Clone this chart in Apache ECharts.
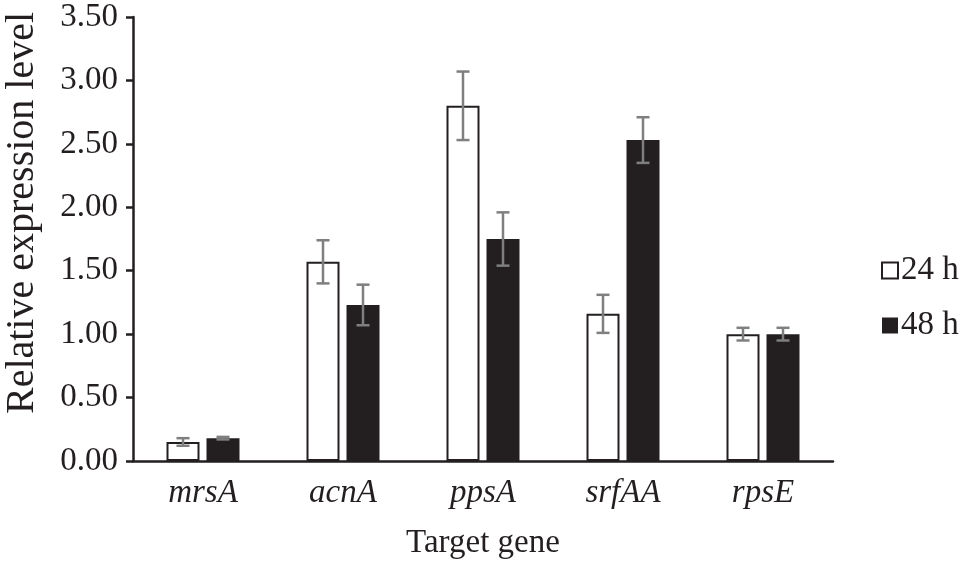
<!DOCTYPE html>
<html style="height: 100%">
<head>
<meta charset="utf-8">
<script src="https://cdn.jsdelivr.net/npm/echarts@6/dist/echarts.min.js"></script>
</head>
<body style="height: 100%; margin: 0; background: #fff">
<div id="container" style="width: 967px; height: 562px"></div>
<script type="text/javascript">
var genes = ['mrsA', 'acnA', 'ppsA', 'srfAA', 'rpsE'];
var h24 = [0.15, 1.57, 2.80, 1.16, 1.00];
var h48 = [0.18, 1.23, 1.75, 2.53, 1.00];
var err24 = [0.03, 0.17, 0.27, 0.15, 0.05];
var err48 = [0.01, 0.16, 0.21, 0.18, 0.05];

var ink = '#231f20';
var font = "'Liberation Serif', 'Times New Roman', serif";
var barW = 33, barGapPx = 7;

function errData(vals, errs) {
    return vals.map(function (v, i) { return [i, v - errs[i], v + errs[i]]; });
}

function errRender(shift) {
    return function (params, api) {
        var lo = api.coord([api.value(0), api.value(1)]);
        var hi = api.coord([api.value(0), api.value(2)]);
        var x = lo[0] + shift;
        var cap = 6.5;
        var st = { stroke: '#7f7f7f', lineWidth: 2.5 };
        return {
            type: 'group',
            children: [
                { type: 'line', shape: { x1: x, y1: lo[1], x2: x, y2: hi[1] }, style: st },
                { type: 'line', shape: { x1: x - cap, y1: hi[1], x2: x + cap, y2: hi[1] }, style: st },
                { type: 'line', shape: { x1: x - cap, y1: lo[1], x2: x + cap, y2: lo[1] }, style: st }
            ]
        };
    };
}

var myChart = echarts.init(document.getElementById('container'));
var shift = (barW + barGapPx) / 2;

var option = {
    animation: false,
    textStyle: { fontFamily: font, color: ink },
    grid: { left: 133, right: 134, top: 17, bottom: 101, outerBoundsMode: 'none', containLabel: false },
    legend: {
        orient: 'vertical',
        left: 876,
        top: 249,
        itemWidth: 16,
        itemHeight: 16,
        itemGap: 22,
        textStyle: { fontFamily: font, fontSize: 33, color: ink, padding: [0, 0, 0, -2] },
        data: [
            { name: '24 h', icon: 'rect', itemStyle: { color: '#fff', borderColor: ink, borderWidth: 2 } },
            { name: '48 h', icon: 'rect', itemStyle: { color: ink } }
        ]
    },
    xAxis: {
        type: 'category',
        data: genes,
        name: 'Target gene',
        nameLocation: 'middle',
        nameGap: 66,
        nameTextStyle: { fontFamily: font, fontSize: 33, color: ink },
        axisLine: { lineStyle: { color: ink, width: 2.5 } },
        axisTick: { length: 8, lineStyle: { color: ink, width: 2.5 } },
        axisLabel: { margin: 16, fontFamily: font, fontSize: 33, fontStyle: 'italic', color: ink }
    },
    yAxis: {
        type: 'value',
        min: 0,
        max: 3.5,
        interval: 0.5,
        name: 'Relative expression level',
        nameLocation: 'middle',
        nameGap: 91,
        nameTextStyle: { fontFamily: font, fontSize: 40, color: ink, padding: [0, 0, 0, 52] },
        axisLine: { show: true, lineStyle: { color: ink, width: 2.5 } },
        axisTick: { show: true, length: 7, lineStyle: { color: ink, width: 2.5 } },
        splitLine: { show: false },
        axisLabel: {
            margin: 15,
            fontFamily: font,
            fontSize: 33,
            color: ink,
            formatter: function (v) { return v.toFixed(2); }
        }
    },
    series: [
        {
            name: '24 h',
            type: 'bar',
            barWidth: barW,
            barGap: (barGapPx / barW * 100) + '%',
            data: h24,
            itemStyle: { color: '#fff', borderColor: ink, borderWidth: 2 }
        },
        {
            name: '48 h',
            type: 'bar',
            barWidth: barW,
            data: h48,
            itemStyle: { color: ink }
        },
        {
            type: 'custom',
            renderItem: errRender(-shift),
            data: errData(h24, err24),
            z: 10
        },
        {
            type: 'custom',
            renderItem: errRender(shift),
            data: errData(h48, err48),
            z: 10
        }
    ]
};

myChart.setOption(option);
</script>
</body>
</html>
